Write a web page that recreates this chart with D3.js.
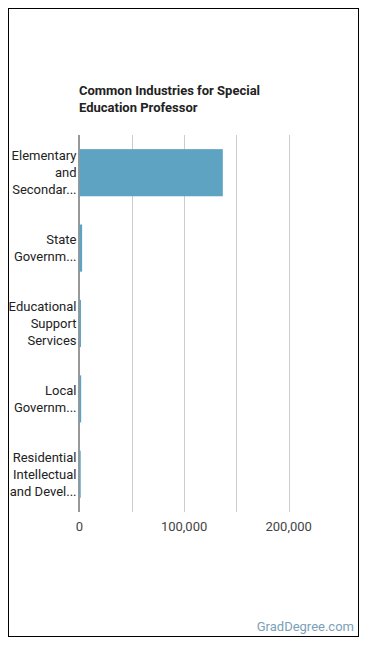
<!DOCTYPE html>
<html>
<head>
<meta charset="utf-8">
<script src="https://cdn.jsdelivr.net/npm/d3@7"></script>
<style>
  body { margin: 0; background: #fff; font-family: Roboto, sans-serif; }
</style>
</head>
<body>
<div id="chart"></div>
<script>
// Chart data
const industries = [
    ["Elementary", "and", "Secondar..."],
    ["State", "Governm..."],
    ["Educational", "Support", "Services"],
    ["Local", "Governm..."],
    ["Residential", "Intellectual", "and Devel..."]
];
const employees = [137000, 2500, 1400, 1600, 1000];
const gridValues = [0, 50000, 100000, 150000, 200000];
const tickLabels = [0, 100000, 200000];

const width = 370;
const height = 648;

const svg = d3.select('#chart')
    .append('svg')
    .attr('width', width)
    .attr('height', height);

// Outer frame
svg.append('rect')
    .attr('x', 8.5)
    .attr('y', 8.5)
    .attr('width', 350)
    .attr('height', 628)
    .style('fill', 'none')
    .style('stroke', '#000')
    .style('stroke-width', 1);

// Title
svg.append('text')
    .attr('x', 79)
    .attr('y', 95)
    .style('font-size', '13px')
    .style('font-weight', 'bold')
    .style('fill', '#222')
    .selectAll('tspan')
    .data(['Common Industries for Special', 'Education Professor'])
    .enter()
    .append('tspan')
    .attr('x', 79)
    .attr('dy', (d, i) => i === 0 ? 0 : 17)
    .text(d => d);

// Scales
const x = d3.scaleLinear()
    .domain([0, 250000])
    .range([79.5, 341]);

const y = d3.scaleBand()
    .domain(d3.range(industries.length))
    .range([135, 512])
    .paddingInner(0.375)
    .paddingOuter(0.1875);

// Gridlines
svg.append('g')
    .selectAll('line')
    .data(gridValues.slice(1))
    .enter()
    .append('line')
    .attr('x1', d => Math.round(x(d)) + 0.5)
    .attr('x2', d => Math.round(x(d)) + 0.5)
    .attr('y1', 135)
    .attr('y2', 512)
    .style('stroke', '#ccc')
    .style('stroke-width', 1);

// Zero baseline
svg.append('line')
    .attr('x1', x(0) - 0.5)
    .attr('x2', x(0) - 0.5)
    .attr('y1', 135)
    .attr('y2', 512)
    .style('stroke', '#333')
    .style('stroke-width', 1);

// Bars
svg.append('g')
    .selectAll('rect')
    .data(employees)
    .enter()
    .append('rect')
    .attr('x', x(0))
    .attr('y', (d, i) => y(i))
    .attr('width', d => Math.max(1.2, x(d) - x(0)))
    .attr('height', y.bandwidth())
    .style('fill', '#5ea3c2');

// Category labels
const labels = svg.append('g')
    .selectAll('text')
    .data(industries)
    .enter()
    .append('text')
    .attr('text-anchor', 'end')
    .style('font-size', '13px')
    .style('fill', '#222')
    .attr('transform', (d, i) => {
        const cy = y(i) + y.bandwidth() / 2;
        const top = cy - (d.length - 1) * 17 / 2 + 4.5;
        return `translate(76.5,${top})`;
    });

labels.selectAll('tspan')
    .data(d => d)
    .enter()
    .append('tspan')
    .attr('x', 0)
    .attr('dy', (d, i) => i === 0 ? 0 : 17)
    .text(d => d);

// Tick labels
svg.append('g')
    .selectAll('text')
    .data(tickLabels)
    .enter()
    .append('text')
    .attr('x', d => x(d))
    .attr('y', 531)
    .attr('text-anchor', 'middle')
    .style('font-size', '13px')
    .style('fill', '#444')
    .text(d => d3.format(',')(d));

// Source
svg.append('text')
    .attr('x', 354)
    .attr('y', 631)
    .attr('text-anchor', 'end')
    .style('font-size', '13px')
    .style('fill', '#7a9fb8')
    .text('GradDegree.com');
</script>
</body>
</html>
